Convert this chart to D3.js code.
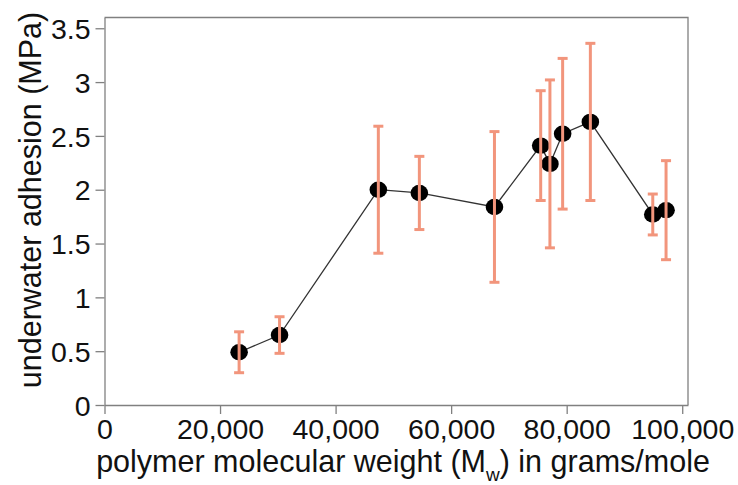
<!DOCTYPE html>
<html>
<head>
<meta charset="utf-8">
<script src="https://cdn.jsdelivr.net/npm/d3@7"></script>
<style>
  body { margin: 0; background: #fff; }
  svg { display: block; font-family: "Liberation Sans", Arial, Helvetica, sans-serif; }
</style>
</head>
<body>
<svg id="chart" width="738" height="485"></svg>
<script>
// Polymer molecular weight (g/mol) against underwater adhesion (MPa), ± error
const molecularWeight = [23300, 30300, 47400, 54500, 67500, 75500, 77100, 79300, 84100, 94900, 97200];
const adhesion        = [0.49, 0.65, 2.00, 1.97, 1.84, 2.41, 2.24, 2.52, 2.63, 1.77, 1.81];
const adhesionError   = [0.19, 0.17, 0.59, 0.34, 0.70, 0.51, 0.78, 0.70, 0.73, 0.19, 0.46];
const xTickValues = [0, 20000, 40000, 60000, 80000, 100000];
const yTickValues = [0, 0.5, 1, 1.5, 2, 2.5, 3, 3.5];

const points = molecularWeight.map((mw, i) => ({
  mw, value: adhesion[i], err: adhesionError[i]
}));

const width = 738, height = 485;
const margin = { top: 17.5, right: 50, bottom: 80, left: 104.5 };

const svg = d3.select("#chart");

const x = d3.scaleLinear()
  .domain([0, 101000])
  .range([margin.left, width - margin.right]);

const y = d3.scaleLinear()
  .domain([0, 3.6])
  .range([height - margin.bottom, margin.top]);

const axisColor = "#808080";

// frame: top and right edges
svg.append("path")
  .attr("d", `M${x(0)},${y(3.6)}H${x(101000)}V${y(0)}`)
  .attr("fill", "none")
  .attr("stroke", axisColor)
  .attr("stroke-width", 1.3);

// x axis
const xAxis = svg.append("g")
  .attr("transform", `translate(0,${y(0)})`)
  .call(d3.axisBottom(x)
    .tickValues(xTickValues)
    .tickFormat(d3.format(","))
    .tickSizeInner(9)
    .tickSizeOuter(0)
    .tickPadding(5));

// y axis
const yAxis = svg.append("g")
  .attr("transform", `translate(${x(0)},0)`)
  .call(d3.axisLeft(y)
    .tickValues(yTickValues)
    .tickFormat(d => String(d))
    .tickSizeInner(9)
    .tickSizeOuter(0)
    .tickPadding(5));

[xAxis, yAxis].forEach(g => {
  g.select(".domain").attr("stroke", axisColor).attr("stroke-width", 1.3);
  g.selectAll(".tick line").attr("stroke", axisColor).attr("stroke-width", 1.3);
  g.selectAll(".tick text")
    .attr("fill", "#111")
    .style("font-size", "28.5px")
    .style("font-family", "'Liberation Sans', Arial, sans-serif");
});
yAxis.selectAll(".tick text").attr("dy", "0.36em");

// connecting line
svg.append("path")
  .datum(points)
  .attr("fill", "none")
  .attr("stroke", "#333")
  .attr("stroke-width", 1.3)
  .attr("d", d3.line().x(d => x(d.mw)).y(d => y(d.value)));

// markers
svg.append("g")
  .selectAll("ellipse")
  .data(points)
  .join("ellipse")
  .attr("cx", d => x(d.mw))
  .attr("cy", d => y(d.value))
  .attr("rx", 8.8)
  .attr("ry", 8.2)
  .attr("fill", "#000");

// error bars, drawn over the markers
const errColor = "#f2957c";
const capHalf = 5;
const bars = svg.append("g")
  .attr("stroke", errColor)
  .attr("stroke-width", 3)
  .attr("fill", "none")
  .selectAll("g")
  .data(points)
  .join("g");

bars.append("line")
  .attr("x1", d => x(d.mw)).attr("x2", d => x(d.mw))
  .attr("y1", d => y(d.value + d.err)).attr("y2", d => y(d.value - d.err));
bars.append("line")
  .attr("x1", d => x(d.mw) - capHalf).attr("x2", d => x(d.mw) + capHalf)
  .attr("y1", d => y(d.value + d.err)).attr("y2", d => y(d.value + d.err));
bars.append("line")
  .attr("x1", d => x(d.mw) - capHalf).attr("x2", d => x(d.mw) + capHalf)
  .attr("y1", d => y(d.value - d.err)).attr("y2", d => y(d.value - d.err));

// axis titles
const xTitle = svg.append("text")
  .attr("x", 403)
  .attr("y", 472)
  .attr("text-anchor", "middle")
  .attr("fill", "#111")
  .style("font-size", "30.5px");
xTitle.append("tspan").text("polymer molecular weight (M");
xTitle.append("tspan").attr("dy", 9).style("font-size", "19px").text("w");
xTitle.append("tspan").attr("dy", -9).text(") in grams/mole");

svg.append("text")
  .attr("transform", `translate(41,200) rotate(-90)`)
  .attr("text-anchor", "middle")
  .attr("fill", "#111")
  .style("font-size", "30.5px")
  .text("underwater adhesion (MPa)");
</script>
</body>
</html>
